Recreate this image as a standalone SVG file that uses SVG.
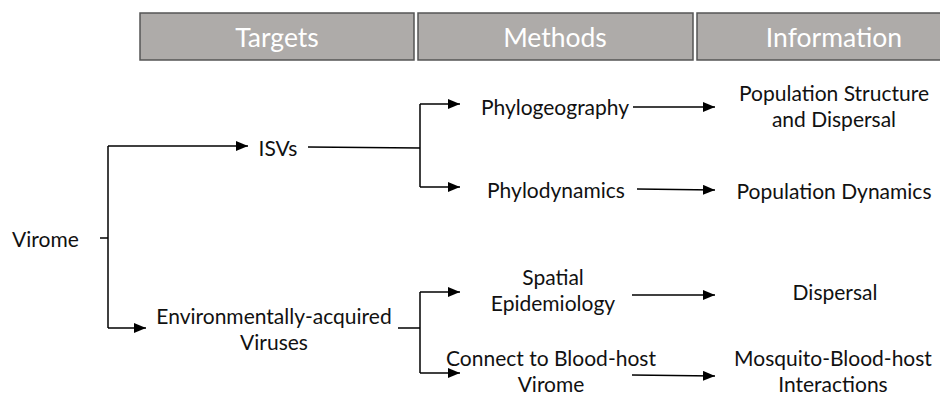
<svg xmlns="http://www.w3.org/2000/svg" width="940" height="395" viewBox="0 0 940 395">
<style>
.hdr{fill:#aeaba9;stroke:#555;stroke-width:1.5}
.ht{font-family:Lato,"Open Sans",sans-serif;font-size:26.5px;fill:#fff;text-anchor:middle;dominant-baseline:central}
.t{font-family:Lato,"Open Sans",sans-serif;font-size:21px;fill:#111;dominant-baseline:central}
.c{text-anchor:middle}
.ln{fill:none;stroke:#000;stroke-width:1.5}
</style>
<defs>
<marker id="ah" markerWidth="12" markerHeight="10" refX="12" refY="5" orient="auto" markerUnits="userSpaceOnUse">
<path d="M0,0 L12,5 L0,10 Z" fill="#000"/>
</marker>
</defs>
<g id="headers">
<g id="h-targets"><rect class="hdr" x="140" y="13" width="274" height="47"/><text class="ht" x="277" y="37">Targets</text></g>
<g id="h-methods"><rect class="hdr" x="418" y="13" width="275" height="47"/><text class="ht" x="555" y="37">Methods</text></g>
<g id="h-info"><rect class="hdr" x="697" y="13" width="250" height="47"/><text class="ht" x="834" y="37">Information</text></g>
</g>
<g id="connectors">
<path class="ln" d="M100,238 H108"/>
<path class="ln" d="M108,146 V328"/>
<path class="ln" d="M108,146 H248" marker-end="url(#ah)"/>
<path class="ln" d="M108,328 H146" marker-end="url(#ah)"/>
<path class="ln" d="M308,147 L420,148"/>
<path class="ln" d="M420,104 V187"/>
<path class="ln" d="M420,104 H460" marker-end="url(#ah)"/>
<path class="ln" d="M420,187 H460" marker-end="url(#ah)"/>
<path class="ln" d="M633,107 H715" marker-end="url(#ah)"/>
<path class="ln" d="M637,189 L715,190" marker-end="url(#ah)"/>
<path class="ln" d="M398,328 H420"/>
<path class="ln" d="M420,292 V373"/>
<path class="ln" d="M420,292 H460" marker-end="url(#ah)"/>
<path class="ln" d="M420,373 H460" marker-end="url(#ah)"/>
<path class="ln" d="M632,295 H715" marker-end="url(#ah)"/>
<path class="ln" d="M632,375 L715,376" marker-end="url(#ah)"/>
</g>
<g id="virome"><text class="t" x="12" y="238">Virome</text></g>
<g id="isvs"><text class="t c" x="278" y="147">ISVs</text></g>
<g id="env"><text class="t c" x="274" y="315">Environmentally-acquired</text><text class="t c" x="274" y="341">Viruses</text></g>
<g id="phylogeo"><text class="t c" x="555" y="106">Phylogeography</text></g>
<g id="phylodyn"><text class="t c" x="556" y="189">Phylodynamics</text></g>
<g id="spatial"><text class="t c" x="553" y="276">Spatial</text><text class="t c" x="553" y="302">Epidemiology</text></g>
<g id="connect"><text class="t c" x="551" y="357">Connect to Blood-host</text><text class="t c" x="551" y="383">Virome</text></g>
<g id="popstruct"><text class="t c" x="834" y="92">Population Structure</text><text class="t c" x="834" y="118">and Dispersal</text></g>
<g id="popdyn"><text class="t c" x="834" y="190">Population Dynamics</text></g>
<g id="dispersal"><text class="t c" x="835" y="291">Dispersal</text></g>
<g id="mosq"><text class="t c" x="833" y="357">Mosquito-Blood-host</text><text class="t c" x="833" y="383">Interactions</text></g>
</svg>
